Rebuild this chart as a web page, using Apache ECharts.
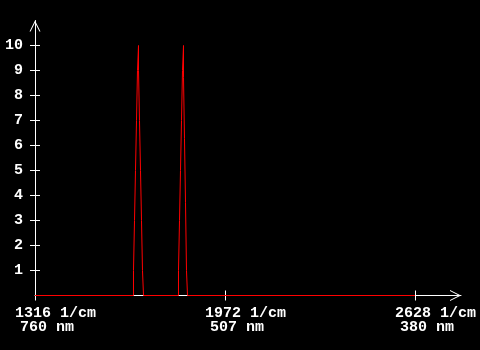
<!DOCTYPE html>
<html><head><meta charset="utf-8">
<script src="https://cdn.jsdelivr.net/npm/echarts@6/dist/echarts.min.js"></script>
<style>html,body{margin:0;padding:0;background:#000}#c{width:480px;height:350px}</style>
</head><body><div id="c"></div>
<script>
// Axis ticks
const xTickWavenumbers = [1316, 1972, 2628];
const xTickNanometers = [760, 507, 380];
const yTickValues = [1, 2, 3, 4, 5, 6, 7, 8, 9, 10];
const xMin = 1316, xMax = 2787, yMin = 0, yMax = 11;

// Spectrum: stepped peaks (bin edges in 1/cm, bin levels, spike at one edge)
const peak1Edges = [1656.1, 1659.6, 1663.0, 1666.5, 1669.9, 1673.4, 1676.8, 1680.3, 1683.8, 1687.2, 1690.7];
const peak1Levels = [1, 3, 5, 7, 9, 9, 7, 5, 3, 1];
const peak1TopIndex = 5, peak1Top = 10;
const peak2Edges = [1811.5, 1815.0, 1818.4, 1821.9, 1825.3, 1828.8, 1832.2, 1835.7, 1839.1, 1842.6];
const peak2Levels = [1, 3, 5, 7, 9, 8.73, 6.27, 3.73, 1];
const peak2TopIndex = 5, peak2Top = 10;
const spectrumStart = 1316, spectrumEnd = 2628;

function buildPeak(edges, levels, topIdx, top) {
  const pts = [];
  edges.forEach((e, i) => {
    const before = i === 0 ? 0 : levels[i - 1];
    const after = i >= levels.length ? 0 : levels[i];
    pts.push([e, before]);
    if (i === topIdx) pts.push([e, top]);
    pts.push([e, after]);
  });
  return pts;
}
const spectrum = [[spectrumStart, 0]]
  .concat(buildPeak(peak1Edges, peak1Levels, peak1TopIndex, peak1Top))
  .concat(buildPeak(peak2Edges, peak2Levels, peak2TopIndex, peak2Top))
  .concat([[spectrumEnd, 0]]);

const FONT = 'Liberation Mono';
const chevron = 'path://M0,10 L5,0 L10,10 L9,10 L5,2 L1,10 Z';
const white = '#ffffff';

const chart = echarts.init(document.getElementById('c'), null, {renderer: 'canvas'});
chart.setOption({
  backgroundColor: '#000000',
  animation: false,
  grid: [
    {left: 35, right: 19, top: 20.5, bottom: 54.5},
    {left: 15, right: 39, top: 20.5, bottom: 54.5}
  ],
  xAxis: [
    {gridIndex: 0, type: 'value', min: xMin, max: xMax, position: 'bottom',
     axisLine: {show: true, lineStyle: {color: white, width: 1}, symbol: ['none', chevron], symbolSize: [11, 11], symbolOffset: [0, -5.5]},
     axisTick: {show: true, inside: false, length: 5, customValues: xTickWavenumbers, lineStyle: {color: white, width: 1}},
     axisLabel: {show: false}, splitLine: {show: false}},
    {gridIndex: 0, type: 'value', min: xMin, max: xMax, position: 'bottom',
     axisLine: {show: false},
     axisTick: {show: true, inside: true, length: 5, customValues: xTickWavenumbers, lineStyle: {color: white, width: 1}},
     axisLabel: {show: false}, splitLine: {show: false}},
    {gridIndex: 1, type: 'value', min: xMin, max: xMax, position: 'bottom',
     axisLine: {show: false}, axisTick: {show: false}, splitLine: {show: false},
     axisLabel: {show: true, customValues: xTickWavenumbers, align: 'left', margin: 10.5, hideOverlap: false,
       color: white, fontFamily: FONT, fontSize: 15, fontWeight: 'bold',
       formatter: function (v) {
         const i = xTickWavenumbers.indexOf(v);
         if (i < 0) return '';
         return '{a|' + v + ' 1/cm}\n{b|' + xTickNanometers[i] + ' nm}';
       },
       rich: {
         a: {color: white, fontFamily: FONT, fontSize: 15, fontWeight: 'bold', lineHeight: 14},
         b: {color: white, fontFamily: FONT, fontSize: 15, fontWeight: 'bold', lineHeight: 14, padding: [0, 0, 0, 5]}
       }}}
  ],
  yAxis: [
    {gridIndex: 0, type: 'value', min: yMin, max: yMax, position: 'left',
     axisLine: {show: true, lineStyle: {color: white, width: 1}, symbol: ['none', chevron], symbolSize: [11, 11], symbolOffset: [0, -5.5]},
     axisTick: {show: true, inside: false, length: 5, customValues: yTickValues, lineStyle: {color: white, width: 1}},
     axisLabel: {show: true, customValues: yTickValues, margin: 12, color: white, fontFamily: FONT, fontSize: 15, fontWeight: 'bold'},
     splitLine: {show: false}},
    {gridIndex: 0, type: 'value', min: yMin, max: yMax, position: 'left',
     axisLine: {show: false},
     axisTick: {show: true, inside: true, length: 5, customValues: yTickValues, lineStyle: {color: white, width: 1}},
     axisLabel: {show: false}, splitLine: {show: false}},
    {gridIndex: 1, type: 'value', min: yMin, max: yMax, show: false}
  ],
  series: [{
    type: 'line', xAxisIndex: 0, yAxisIndex: 0, data: spectrum,
    symbol: 'none', showSymbol: false, clip: false,
    lineStyle: {color: '#ff0000', width: 1}
  }]
});
</script></body></html>
